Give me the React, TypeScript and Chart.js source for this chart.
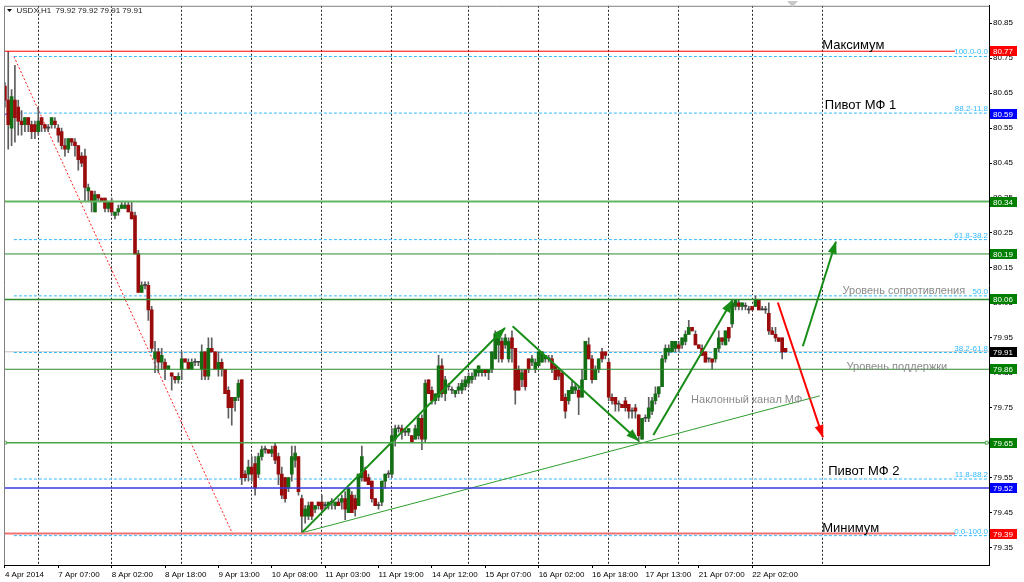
import React, { useEffect, useRef } from 'react';
import { Chart, registerables } from 'chart.js';

Chart.register(...registerables);

// ---------- data (USDX, H1) ----------
const symbol = 'USDX,H1';

const barOpen = [
  80.67, 80.63, 80.55, 80.63, 80.61, 80.57, 80.56, 80.58, 80.56, 80.56,
  80.54, 80.58, 80.56, 80.55, 80.56, 80.57, 80.55, 80.54, 80.50, 80.49,
  80.52, 80.51, 80.50, 80.47, 80.47, 80.37, 80.37, 80.31, 80.36, 80.35,
  80.35, 80.32, 80.34, 80.30, 80.31, 80.32, 80.32, 80.33, 80.31, 80.30,
  80.19, 80.08, 80.10, 80.10, 80.03, 79.89, 79.91, 79.88, 79.88, 79.86,
  79.85, 79.84, 79.83, 79.86, 79.89, 79.88, 79.86, 79.88, 79.88, 79.86,
  79.91, 79.84, 79.92, 79.91, 79.86, 79.88, 79.86, 79.80, 79.78, 79.77,
  79.78, 79.83, 79.56, 79.56, 79.58, 79.59, 79.56, 79.61, 79.63, 79.63,
  79.62, 79.64, 79.61, 79.56, 79.55, 79.52, 79.56, 79.60, 79.61, 79.49,
  79.44, 79.44, 79.48, 79.46, 79.48, 79.48, 79.47, 79.47, 79.48, 79.47,
  79.48, 79.48, 79.49, 79.45, 79.50, 79.49, 79.47, 79.55, 79.57, 79.55,
  79.54, 79.49, 79.47, 79.48, 79.54, 79.56, 79.56, 79.66, 79.69, 79.69,
  79.68, 79.68, 79.67, 79.66, 79.67, 79.72, 79.66, 79.83, 79.80, 79.77,
  79.78, 79.87, 79.79, 79.81, 79.80, 79.79, 79.80, 79.80, 79.81, 79.82,
  79.83, 79.84, 79.85, 79.85, 79.86, 79.85, 79.86, 79.89, 79.93, 79.94,
  79.93, 79.89, 79.95, 79.92, 79.86, 79.83, 79.86, 79.89, 79.88, 79.86,
  79.87, 79.88, 79.89, 79.89, 79.89, 79.87, 79.86, 79.85, 79.78, 79.77,
  79.79, 79.80, 79.80, 79.78, 79.83, 79.93, 79.89, 79.83, 79.86, 79.91,
  79.91, 79.88, 79.78, 79.78, 79.76, 79.76, 79.77, 79.76, 79.74, 79.75,
  79.73, 79.66, 79.72, 79.72, 79.74, 79.77, 79.79, 79.81, 79.89, 79.91,
  79.91, 79.92, 79.93, 79.93, 79.94, 79.96, 79.98, 79.96, 79.93, 79.92,
  79.91, 79.89, 79.89, 79.89, 79.92, 79.95, 79.93, 79.98, 79.99, 80.04,
  80.05, 80.04, 80.04, 80.03, 80.04, 80.04, 80.06, 80.03, 80.03, 80.02,
  79.97, 79.96, 79.95, 79.95, 79.92,
];

const barHigh = [
  80.68, 80.77, 80.66, 80.73, 80.63, 80.60, 80.58, 80.58, 80.57, 80.57,
  80.61, 80.58, 80.56, 80.56, 80.58, 80.58, 80.56, 80.55, 80.52, 80.52,
  80.52, 80.52, 80.50, 80.48, 80.49, 80.39, 80.37, 80.37, 80.36, 80.35,
  80.35, 80.34, 80.35, 80.31, 80.33, 80.34, 80.34, 80.34, 80.34, 80.31,
  80.20, 80.11, 80.11, 80.11, 80.04, 79.94, 79.92, 79.92, 79.89, 79.87,
  79.85, 79.84, 79.85, 79.91, 79.89, 79.89, 79.89, 79.89, 79.88, 79.93,
  79.91, 79.95, 79.95, 79.91, 79.91, 79.89, 79.86, 79.81, 79.78, 79.78,
  79.83, 79.83, 79.57, 79.60, 79.61, 79.61, 79.62, 79.64, 79.64, 79.63,
  79.64, 79.65, 79.62, 79.58, 79.55, 79.55, 79.64, 79.64, 79.61, 79.50,
  79.47, 79.48, 79.48, 79.47, 79.48, 79.50, 79.48, 79.48, 79.49, 79.48,
  79.49, 79.50, 79.51, 79.52, 79.51, 79.50, 79.56, 79.64, 79.58, 79.56,
  79.54, 79.49, 79.48, 79.54, 79.56, 79.57, 79.69, 79.70, 79.70, 79.70,
  79.69, 79.69, 79.67, 79.70, 79.73, 79.73, 79.83, 79.83, 79.81, 79.79,
  79.90, 79.89, 79.84, 79.82, 79.81, 79.80, 79.82, 79.83, 79.84, 79.85,
  79.85, 79.86, 79.87, 79.86, 79.86, 79.86, 79.91, 79.97, 79.96, 79.95,
  79.96, 79.95, 79.97, 79.92, 79.87, 79.86, 79.86, 79.89, 79.90, 79.89,
  79.91, 79.91, 79.90, 79.90, 79.90, 79.87, 79.86, 79.85, 79.79, 79.80,
  79.83, 79.82, 79.81, 79.86, 79.94, 79.95, 79.90, 79.87, 79.89, 79.92,
  79.91, 79.89, 79.79, 79.78, 79.77, 79.76, 79.78, 79.76, 79.75, 79.76,
  79.73, 79.72, 79.73, 79.78, 79.78, 79.81, 79.81, 79.90, 79.93, 79.93,
  79.94, 79.94, 79.94, 79.95, 79.97, 80.00, 79.98, 79.97, 79.93, 79.93,
  79.91, 79.89, 79.89, 79.92, 79.97, 79.95, 79.97, 79.98, 80.06, 80.06,
  80.06, 80.05, 80.05, 80.04, 80.04, 80.07, 80.06, 80.04, 80.04, 80.05,
  79.98, 79.98, 79.95, 79.95, 79.92,
];

const barLow = [
  80.61, 80.49, 80.50, 80.51, 80.53, 80.53, 80.54, 80.54, 80.52, 80.52,
  80.53, 80.54, 80.54, 80.54, 80.55, 80.55, 80.51, 80.49, 80.47, 80.48,
  80.50, 80.47, 80.43, 80.44, 80.34, 80.34, 80.31, 80.31, 80.34, 80.34,
  80.31, 80.31, 80.30, 80.29, 80.30, 80.32, 80.32, 80.31, 80.29, 80.19,
  80.08, 80.08, 80.09, 80.00, 79.91, 79.85, 79.85, 79.86, 79.83, 79.86,
  79.80, 79.82, 79.82, 79.83, 79.88, 79.86, 79.86, 79.87, 79.87, 79.83,
  79.83, 79.83, 79.91, 79.86, 79.84, 79.84, 79.79, 79.72, 79.70, 79.74,
  79.77, 79.53, 79.54, 79.54, 79.54, 79.50, 79.55, 79.60, 79.62, 79.62,
  79.61, 79.59, 79.53, 79.49, 79.48, 79.51, 79.54, 79.58, 79.50, 79.39,
  79.42, 79.43, 79.43, 79.45, 79.46, 79.45, 79.46, 79.46, 79.46, 79.46,
  79.47, 79.46, 79.43, 79.45, 79.45, 79.44, 79.47, 79.54, 79.54, 79.53,
  79.48, 79.47, 79.46, 79.47, 79.52, 79.55, 79.55, 79.64, 79.68, 79.66,
  79.67, 79.67, 79.65, 79.66, 79.66, 79.63, 79.65, 79.79, 79.76, 79.76,
  79.77, 79.78, 79.77, 79.80, 79.79, 79.78, 79.79, 79.79, 79.80, 79.81,
  79.82, 79.83, 79.84, 79.84, 79.84, 79.83, 79.85, 79.89, 79.88, 79.88,
  79.92, 79.88, 79.88, 79.76, 79.80, 79.81, 79.80, 79.85, 79.87, 79.85,
  79.87, 79.88, 79.88, 79.88, 79.85, 79.83, 79.83, 79.77, 79.72, 79.76,
  79.79, 79.79, 79.73, 79.78, 79.83, 79.89, 79.82, 79.83, 79.85, 79.88,
  79.89, 79.77, 79.76, 79.74, 79.74, 79.75, 79.74, 79.72, 79.72, 79.72,
  79.65, 79.66, 79.71, 79.71, 79.73, 79.76, 79.78, 79.81, 79.88, 79.90,
  79.91, 79.91, 79.91, 79.92, 79.93, 79.96, 79.97, 79.93, 79.92, 79.90,
  79.88, 79.88, 79.86, 79.88, 79.91, 79.93, 79.93, 79.94, 79.98, 80.03,
  80.03, 80.03, 80.03, 80.02, 80.03, 80.04, 80.03, 80.03, 80.02, 79.96,
  79.96, 79.94, 79.94, 79.89, 79.91,
];

const barClose = [
  80.63, 80.56, 80.64, 80.58, 80.57, 80.56, 80.58, 80.56, 80.54, 80.54,
  80.57, 80.56, 80.55, 80.55, 80.58, 80.56, 80.53, 80.50, 80.49, 80.52,
  80.51, 80.50, 80.46, 80.45, 80.38, 80.38, 80.34, 80.36, 80.35, 80.34,
  80.32, 80.34, 80.31, 80.31, 80.32, 80.33, 80.33, 80.31, 80.29, 80.19,
  80.08, 80.10, 80.10, 80.03, 79.92, 79.91, 79.88, 79.90, 79.86, 79.87,
  79.84, 79.83, 79.84, 79.89, 79.88, 79.86, 79.88, 79.88, 79.88, 79.91,
  79.84, 79.92, 79.91, 79.86, 79.88, 79.86, 79.79, 79.75, 79.75, 79.78,
  79.82, 79.55, 79.55, 79.58, 79.56, 79.52, 79.61, 79.63, 79.63, 79.62,
  79.63, 79.60, 79.56, 79.50, 79.49, 79.55, 79.61, 79.62, 79.51, 79.44,
  79.46, 79.47, 79.44, 79.47, 79.47, 79.46, 79.47, 79.48, 79.48, 79.48,
  79.47, 79.49, 79.46, 79.52, 79.45, 79.46, 79.56, 79.61, 79.54, 79.53,
  79.49, 79.47, 79.47, 79.54, 79.56, 79.56, 79.67, 79.69, 79.69, 79.68,
  79.68, 79.69, 79.65, 79.69, 79.72, 79.66, 79.82, 79.79, 79.77, 79.79,
  79.87, 79.79, 79.83, 79.81, 79.80, 79.80, 79.81, 79.82, 79.83, 79.84,
  79.84, 79.86, 79.87, 79.86, 79.85, 79.86, 79.91, 79.96, 79.95, 79.89,
  79.95, 79.94, 79.92, 79.80, 79.80, 79.85, 79.81, 79.86, 79.89, 79.88,
  79.91, 79.91, 79.90, 79.89, 79.86, 79.83, 79.84, 79.77, 79.74, 79.80,
  79.81, 79.81, 79.78, 79.83, 79.94, 79.89, 79.83, 79.86, 79.89, 79.89,
  79.90, 79.78, 79.77, 79.76, 79.76, 79.75, 79.75, 79.74, 79.74, 79.74,
  79.67, 79.72, 79.72, 79.75, 79.77, 79.79, 79.81, 79.89, 79.92, 79.92,
  79.94, 79.94, 79.92, 79.95, 79.96, 79.98, 79.97, 79.93, 79.92, 79.90,
  79.88, 79.89, 79.88, 79.92, 79.95, 79.94, 79.97, 79.95, 80.05, 80.06,
  80.04, 80.05, 80.04, 80.03, 80.03, 80.06, 80.03, 80.03, 80.03, 79.97,
  79.96, 79.95, 79.94, 79.91, 79.91,
];

// time axis
const timeLabels = [
  '4 Apr 2014', '7 Apr 07:00', '8 Apr 02:00', '8 Apr 18:00', '9 Apr 13:00',
  '10 Apr 08:00', '11 Apr 03:00', '11 Apr 19:00', '14 Apr 12:00', '15 Apr 07:00',
  '16 Apr 02:00', '16 Apr 18:00', '17 Apr 13:00', '21 Apr 07:00', '22 Apr 02:00',
];
const timeLabelBars = [0, 16, 32, 48, 64, 80, 96, 112, 128, 144, 160, 176, 192, 208, 224];
const daySeparatorBars = [10, 32, 53, 74, 95, 116, 139, 160, 181, 202, 224, 245];

// price axis
const priceTicks = [
  79.35, 79.45, 79.55, 79.65, 79.75, 79.85, 79.95, 80.05,
  80.15, 80.25, 80.35, 80.45, 80.55, 80.65, 80.75, 80.85,
];
const X_MIN = -0.27;
const X_MAX = 295.0;
const Y_MIN = 79.30;
const Y_MAX = 80.90;

// horizontal level lines
const levelPrices = [80.77, 80.34, 80.19, 80.06, 79.86, 79.65, 79.52, 79.39];
const levelColors = ['#ff0000', '#62b562', '#2a8a2a', '#2a8a2a', '#2a8a2a', '#4aa54a', '#3a3ae0', '#f07272'];
const levelWidths = [1, 2, 1, 1.5, 1, 1.5, 1.5, 2];
const levelEndBars = [284.8, X_MAX, X_MAX, X_MAX, X_MAX, X_MAX, X_MAX, 284.8];

// level hidden under the fibo (only its left end shows) + bid line
const hiddenLevelPrice = 80.59;
const bidPrice = 79.91;

// fibonacci retracement
const fibLabels = ['100.0-0.0', '88.2-11.8', '61.8-38.2', '50.0', '38.2-61.8', '11.8-88.2', '0.0-100.0'];
const fibPrices = [80.755, 80.593, 80.231, 80.070, 79.908, 79.546, 79.384];
const fibStartBar = 2.7;
const fibAnchor = [[2.7, 80.755], [68.5, 79.384]];

// price tags on the right axis
const tagPrices = [80.77, 80.59, 80.34, 80.19, 80.06, 79.91, 79.86, 79.65, 79.52, 79.39];
const tagColors = ['#ff0000', '#0000ff', '#008000', '#008000', '#008000', '#000000', '#008000', '#008000', '#0000ff', '#ff0000'];

// drawn trend lines / arrows: [bar1, price1, bar2, price2]
const greenArrows = [
  [88.97, 79.392, 149.9, 79.978],
  [152.2, 79.983, 189.9, 79.656],
  [194.4, 79.672, 218.0, 80.057],
  [239.2, 79.926, 249.1, 80.225],
];
const redArrow = [231.7, 80.051, 245.2, 79.666];
const channelLine = [88.97, 79.392, 244.3, 79.784];

// text objects
const noteTexts = ['Максимум', 'Пивот МФ 1', 'Пивот МФ 2', 'Минимум', 'Уровень сопротивления', 'Уровень поддержки', 'Наклонный канал МФ'];
const noteBars = [245.0, 245.8, 246.8, 245.0, 251.1, 252.3, 205.7];
const notePrices = [80.777, 80.606, 79.558, 79.393, 80.076, 79.859, 79.764];

// ---------- styles ----------
const FONT = "'Liberation Sans', Arial, sans-serif";
const BULL = '#146e14';
const BEAR = '#9a0c0c';
const DOJI = '#404040';
const WICK = '#5e5e5e';
const FIB = '#33b9ff';
const noteColors = ['#000', '#000', '#000', '#000', '#8a8a8a', '#8a8a8a', '#8a8a8a'];
const noteSizes = [13, 13, 13, 13, 11, 11, 11];

function seg(points: number[][], color: string, width: number, extra: any = {}) {
  return {
    type: 'line',
    data: points.map((p) => ({ x: p[0], y: p[1] })),
    borderColor: color,
    backgroundColor: color,
    borderWidth: width,
    pointRadius: 0,
    fill: false,
    tension: 0,
    order: 0,
    ...extra,
  };
}

const overlayPlugin = {
  id: 'mtOverlay',
  afterDatasetsDraw(chart: any) {
    const ctx = chart.ctx;
    const xs = chart.scales.x;
    const ys = chart.scales.y;
    const a = chart.chartArea;
    ctx.save();
    ctx.beginPath();
    ctx.rect(a.left, a.top, a.right - a.left, a.bottom - a.top);
    ctx.clip();
    // arrow heads
    chart.data.datasets.forEach((ds: any, i: number) => {
      if (!ds.arrowHead) return;
      const pts = chart.getDatasetMeta(i).data;
      const p0 = pts[pts.length - 2];
      const p1 = pts[pts.length - 1];
      const ang = Math.atan2(p1.y - p0.y, p1.x - p0.x);
      const L = 12;
      const W = 4.5;
      const bx = p1.x - L * Math.cos(ang);
      const by = p1.y - L * Math.sin(ang);
      ctx.fillStyle = ds.borderColor;
      ctx.beginPath();
      ctx.moveTo(p1.x + Math.cos(ang), p1.y + Math.sin(ang));
      ctx.lineTo(bx + W * Math.sin(ang), by - W * Math.cos(ang));
      ctx.lineTo(bx - W * Math.sin(ang), by + W * Math.cos(ang));
      ctx.closePath();
      ctx.fill();
    });
    // fibo labels
    ctx.font = `8px ${FONT}`;
    ctx.fillStyle = FIB;
    ctx.textAlign = 'right';
    ctx.textBaseline = 'alphabetic';
    fibPrices.forEach((p, k) => {
      ctx.fillText(fibLabels[k], a.right - 1, ys.getPixelForValue(p) - 2);
    });
    // notes
    ctx.textAlign = 'left';
    noteTexts.forEach((t, k) => {
      ctx.font = `${noteSizes[k]}px ${FONT}`;
      ctx.fillStyle = noteColors[k];
      ctx.fillText(t, xs.getPixelForValue(noteBars[k]), ys.getPixelForValue(notePrices[k]));
    });
    ctx.restore();
  },
  afterDraw(chart: any) {
    const ctx = chart.ctx;
    const ys = chart.scales.y;
    const a = chart.chartArea;
    ctx.save();
    // left / top frame
    ctx.strokeStyle = '#808080';
    ctx.lineWidth = 1;
    ctx.beginPath();
    ctx.moveTo(a.left + 0.5, a.bottom);
    ctx.lineTo(a.left + 0.5, a.top + 0.5);
    ctx.lineTo(a.right, a.top + 0.5);
    ctx.stroke();
    // price tags
    ctx.font = `8px ${FONT}`;
    ctx.textAlign = 'left';
    ctx.textBaseline = 'middle';
    tagPrices.forEach((p, k) => {
      const y = Math.round(ys.getPixelForValue(p));
      ctx.fillStyle = tagColors[k];
      ctx.fillRect(a.right + 1, y - 5, 27, 10);
      ctx.fillStyle = '#ffffff';
      ctx.fillText(p.toFixed(2), a.right + 4, y + 0.5);
    });
    // title
    const n = barClose.length - 1;
    ctx.fillStyle = '#000';
    ctx.beginPath();
    ctx.moveTo(7, 9);
    ctx.lineTo(12, 9);
    ctx.lineTo(9.5, 12);
    ctx.closePath();
    ctx.fill();
    ctx.textBaseline = 'alphabetic';
    ctx.fillStyle = '#1a1a1a';
    ctx.fillText(
      `${symbol}  ${barOpen[n].toFixed(2)} ${barHigh[n].toFixed(2)} ${barLow[n].toFixed(2)} ${barClose[n].toFixed(2)}`,
      16.5,
      13,
    );
    // chart shift marker
    ctx.fillStyle = '#c8c8c8';
    ctx.beginPath();
    ctx.moveTo(787, 1);
    ctx.lineTo(798, 1);
    ctx.lineTo(792.5, 7);
    ctx.closePath();
    ctx.fill();
    ctx.restore();
  },
};

export default function App() {
  const ref = useRef<HTMLCanvasElement>(null);

  useEffect(() => {
    document.body.style.margin = '0';
    Chart.defaults.font.family = FONT;

    const datasets: any[] = [];
    // candles
    datasets.push({
      type: 'bar',
      label: 'body',
      data: barOpen.map((o, i) => ({ x: i, y: [o, barClose[i]] })),
      backgroundColor: barOpen.map((o, i) => (barClose[i] > o ? BULL : barClose[i] < o ? BEAR : DOJI)),
      barThickness: 3,
      grouped: false,
      minBarLength: 1,
      borderWidth: 0,
      order: 5,
    });
    datasets.push({
      type: 'bar',
      label: 'wick',
      data: barLow.map((l, i) => ({ x: i, y: [l, barHigh[i]] })),
      backgroundColor: WICK,
      barThickness: 1,
      grouped: false,
      minBarLength: 1,
      borderWidth: 0,
      order: 6,
    });
    // background objects: hidden level (left end only), bid line, fibo
    datasets.push(seg([[X_MIN, hiddenLevelPrice], [fibStartBar, hiddenLevelPrice]], '#2020c8', 1, { order: 10 }));
    datasets.push(seg([[X_MIN, bidPrice], [X_MAX, bidPrice]], '#c4c4c4', 1, { order: 10 }));
    fibPrices.forEach((p) => {
      datasets.push(seg([[fibStartBar, p], [X_MAX, p]], '#ffffff', 1, { order: 9 }));
      datasets.push(seg([[fibStartBar, p], [X_MAX, p]], FIB, 1, { order: 8, borderDash: [3, 2] }));
    });
    datasets.push(seg(fibAnchor, '#ff2020', 1, { order: 8, borderDash: [2, 2] }));
    // horizontal levels
    levelPrices.forEach((p, k) => {
      if (k === 5) {
        datasets.push(
          seg([[X_MIN, p], [0, p], [294.3, p], [X_MAX, p]], levelColors[k], levelWidths[k], {
            pointRadius: [0, 2, 2, 0],
            pointStyle: 'rect',
            pointBackgroundColor: '#ffffff',
            pointBorderColor: levelColors[k],
            pointBorderWidth: 1,
          }),
        );
      } else {
        datasets.push(seg([[X_MIN, p], [levelEndBars[k], p]], levelColors[k], levelWidths[k]));
      }
    });
    // channel + arrows
    datasets.push(seg([[channelLine[0], channelLine[1]], [channelLine[2], channelLine[3]]], '#2f9e2f', 1));
    greenArrows.forEach((g) => {
      datasets.push(seg([[g[0], g[1]], [g[2], g[3]]], '#178c17', 2, { arrowHead: true }));
    });
    datasets.push(seg([[redArrow[0], redArrow[1]], [redArrow[2], redArrow[3]]], '#ff0000', 2, { arrowHead: true }));

    const chart = new Chart(ref.current as HTMLCanvasElement, {
      type: 'bar',
      data: { datasets },
      plugins: [overlayPlugin],
      options: {
        responsive: false,
        animation: false,
        devicePixelRatio: 1,
        events: [],
        layout: { padding: { left: 4, top: 4, right: 0, bottom: 0 } },
        plugins: { legend: { display: false }, tooltip: { enabled: false } },
        scales: {
          x: {
            type: 'linear',
            position: 'bottom',
            min: X_MIN,
            max: X_MAX,
            offset: false,
            afterBuildTicks: (s: any) => {
              s.ticks = timeLabelBars.map((v) => ({ value: v }));
            },
            afterFit: (s: any) => {
              s.height = 17;
            },
            ticks: {
              autoSkip: false,
              maxRotation: 0,
              minRotation: 0,
              align: 'start',
              padding: 2,
              color: '#000',
              font: { size: 8, family: FONT },
              callback: (_v: any, i: number) => timeLabels[i],
            },
            grid: { drawOnChartArea: false, drawTicks: true, tickLength: 3, color: '#000', offset: false },
            border: { display: true, color: '#000' },
          },
          xg: {
            type: 'linear',
            position: 'bottom',
            min: X_MIN,
            max: X_MAX,
            offset: false,
            afterBuildTicks: (s: any) => {
              s.ticks = daySeparatorBars.map((v) => ({ value: v }));
            },
            afterFit: (s: any) => {
              s.height = 0;
            },
            ticks: { display: false },
            grid: { drawOnChartArea: true, drawTicks: false, color: '#222', lineWidth: 1, offset: false },
            border: { display: false, dash: [2, 2] },
          },
          y: {
            type: 'linear',
            position: 'right',
            min: Y_MIN,
            max: Y_MAX,
            afterBuildTicks: (s: any) => {
              s.ticks = priceTicks.map((v) => ({ value: v }));
            },
            afterFit: (s: any) => {
              s.width = 35;
            },
            ticks: {
              padding: 1,
              color: '#000',
              font: { size: 8, family: FONT },
              callback: (v: any) => Number(v).toFixed(2),
            },
            grid: { drawOnChartArea: false, drawTicks: true, tickLength: 3, color: '#000' },
            border: { display: true, color: '#000' },
          },
        },
      } as any,
    });
    return () => chart.destroy();
  }, []);

  return (
    <div style={{ width: 1024, height: 582, background: '#ffffff' }}>
      <canvas ref={ref} width={1024} height={582} style={{ display: 'block' }} />
    </div>
  );
}
